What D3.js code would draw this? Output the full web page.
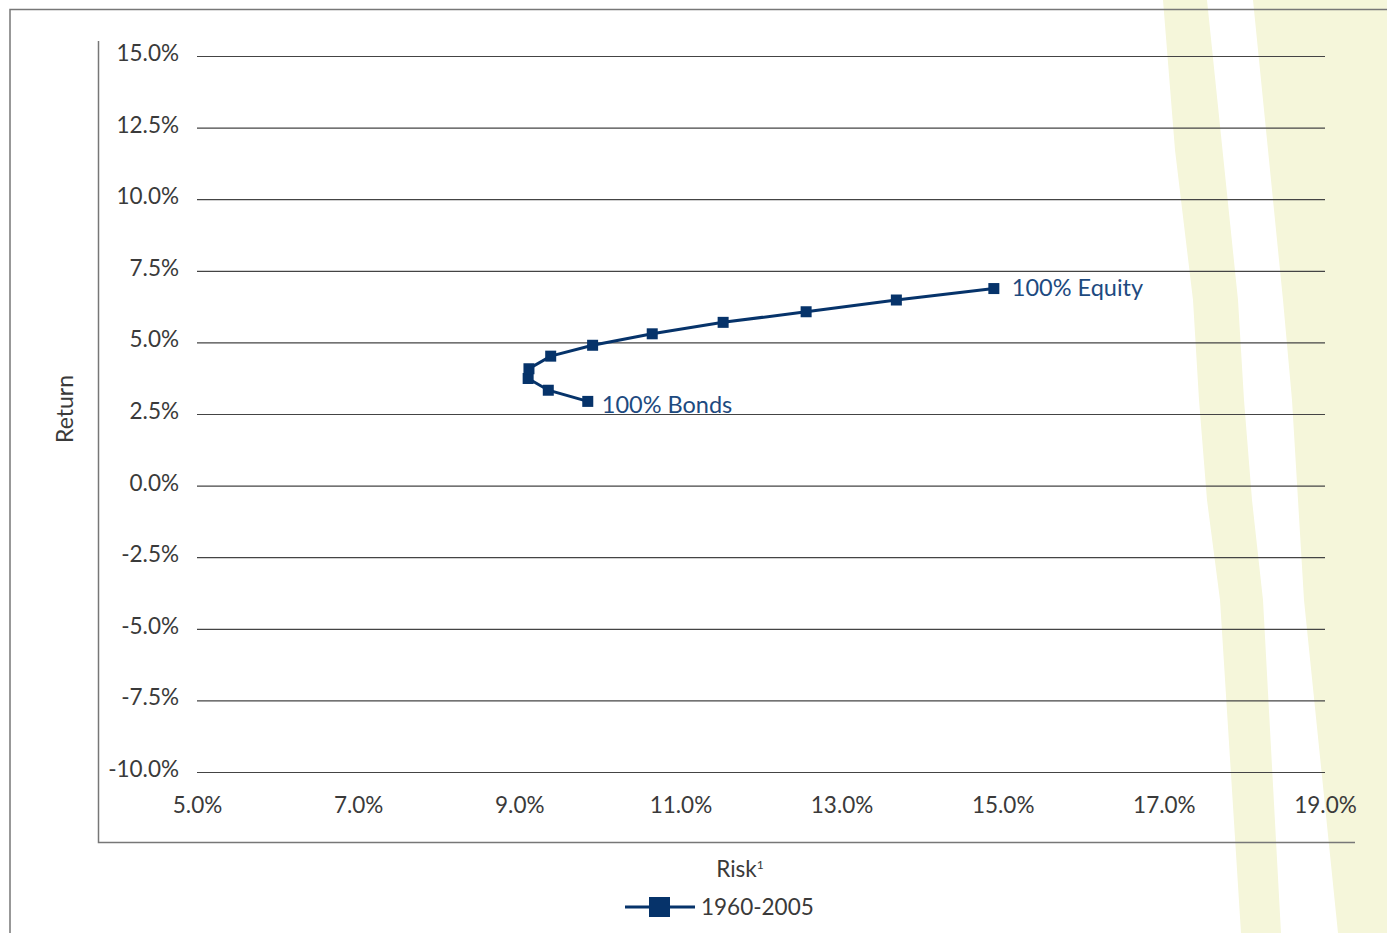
<!DOCTYPE html>
<html>
<head>
<meta charset="utf-8">
<script src="https://d3js.org/d3.v7.min.js"></script>
<style>
  body { margin: 0; background: #fff; }
  svg { display: block; font-family: Lato, "Open Sans", sans-serif; }
</style>
</head>
<body>
<svg id="chart" width="1387" height="933"></svg>
<script>
// risk / return pairs, from 100% bonds to 100% equity
const risk   = [9.85, 9.36, 9.11, 9.12, 9.39, 9.91, 10.65, 11.53, 12.56, 13.68, 14.89];
const ret    = [2.94, 3.33, 3.74, 4.08, 4.52, 4.90, 5.30, 5.70, 6.07, 6.48, 6.88];
const xTicks = [5, 7, 9, 11, 13, 15, 17, 19];
const yTicks = [-10, -7.5, -5, -2.5, 0, 2.5, 5, 7.5, 10, 12.5, 15];
const seriesName = "1960-2005";

const navy = "#06336a";
const txt  = "#3a3a3a";
const svg = d3.select("#chart");
const pct = d => d.toFixed(1) + "%";

const x = d3.scaleLinear().domain([5, 19]).range([197, 1325]);
const y = d3.scaleLinear().domain([-10, 15]).range([772, 56]);

// decorative stripes on the right
const stripes = svg.append("g").attr("fill", "#f5f6da");
stripes.append("path")
  .attr("d", "M1163,0 L1175,150 L1193,300 L1199,400 L1207,500 L1220,600 L1241,933 L1281,933 L1263,600 L1252,500 L1244,400 L1238,300 L1207,0 Z");
stripes.append("path")
  .attr("d", "M1253,0 L1283,300 L1292,400 L1298,500 L1304,600 L1338,933 L1387,933 L1387,0 Z");

// outer frame
svg.append("path")
  .attr("d", "M10,933 L10,9.5 L1387,9.5")
  .attr("fill", "none").attr("stroke", "#777").attr("stroke-width", 1.5);

// inner plot frame (left + bottom)
svg.append("path")
  .attr("d", "M98.5,41 L98.5,842.5 L1355,842.5")
  .attr("fill", "none").attr("stroke", "#777").attr("stroke-width", 1.5);

// gridlines + y labels
const yAxis = svg.append("g")
  .attr("transform", "translate(197,0)")
  .call(d3.axisLeft(y).tickValues(yTicks).tickSize(-(1325 - 197)).tickPadding(18).tickFormat(pct))
  .attr("font-family", null).attr("font-size", null);
yAxis.select(".domain").remove();
yAxis.selectAll(".tick line").attr("stroke", "#444").attr("stroke-width", 1.2);
yAxis.selectAll(".tick text")
  .attr("fill", txt).style("font-size", "22.5px").attr("dy", "0.2em");

// x labels
const xAxis = svg.append("g")
  .attr("transform", "translate(0,772)")
  .call(d3.axisBottom(x).tickValues(xTicks).tickSize(0).tickPadding(25).tickFormat(pct))
  .attr("font-family", null).attr("font-size", null);
xAxis.select(".domain").remove();
xAxis.selectAll(".tick text").attr("fill", txt).style("font-size", "22.5px");

// axis titles
svg.append("text")
  .attr("transform", "translate(73,409) rotate(-90)")
  .attr("text-anchor", "middle").attr("fill", txt).style("font-size", "23px")
  .text("Return");
const riskLabel = svg.append("text")
  .attr("x", 740).attr("y", 877)
  .attr("text-anchor", "middle").attr("fill", txt).style("font-size", "22.5px");
riskLabel.append("tspan").text("Risk");
riskLabel.append("tspan").attr("dy", -8).style("font-size", "12px").text("1");

// series line
const pts = risk.map((r, i) => [r, ret[i]]);
svg.append("path")
  .datum(pts)
  .attr("fill", "none").attr("stroke", navy).attr("stroke-width", 3)
  .attr("d", d3.line().x(d => x(d[0])).y(d => y(d[1])));

svg.selectAll(".pt")
  .data(pts)
  .enter().append("rect")
    .attr("class", "pt")
    .attr("x", d => x(d[0]) - 5.5)
    .attr("y", d => y(d[1]) - 5.5)
    .attr("width", 11).attr("height", 11)
    .attr("fill", navy);

// end labels
const last = pts[pts.length - 1], first = pts[0];
svg.append("text")
  .attr("x", x(last[0]) + 18).attr("y", y(last[1]) + 7)
  .attr("fill", "#1d4a80").style("font-size", "23.5px")
  .text("100% Equity");
svg.append("text")
  .attr("x", x(first[0]) + 14).attr("y", y(first[1]) + 12)
  .attr("fill", "#1d4a80").style("font-size", "23.5px")
  .text("100% Bonds");

// legend
const lg = svg.append("g").attr("transform", "translate(625,907)");
lg.append("line").attr("x1", 0).attr("x2", 70).attr("y1", 0).attr("y2", 0)
  .attr("stroke", navy).attr("stroke-width", 3);
lg.append("rect").attr("x", 24).attr("y", -10).attr("width", 21).attr("height", 20).attr("fill", navy);
lg.append("text").attr("x", 76).attr("y", 8)
  .attr("fill", txt).style("font-size", "22.5px").text(seriesName);
</script>
</body>
</html>
